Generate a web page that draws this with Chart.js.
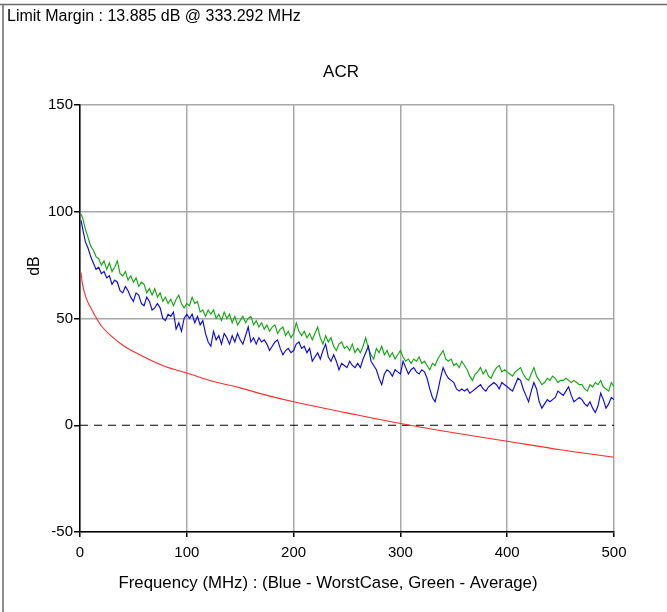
<!DOCTYPE html>
<html>
<head>
<meta charset="utf-8">
<title>ACR</title>
<script src="https://cdn.jsdelivr.net/npm/chart.js@4.4.1/dist/chart.umd.min.js"></script>
<style>
  html, body { margin: 0; padding: 0; background: #fff; }
  #wrap { position: relative; width: 667px; height: 612px; }
</style>
</head>
<body>
<div id="wrap"><canvas id="acrChart" width="667" height="612"></canvas></div>
<script>
  "use strict";

  /* ---------------------------------------------------------------
   * Data
   * --------------------------------------------------------------- */
  const LIMIT_TEXT = "Limit Margin : 13.885 dB @ 333.292 MHz";
  const TITLE = "ACR";
  const X_TITLE = "Frequency (MHz) : (Blue - WorstCase, Green - Average)";
  const Y_TITLE = "dB";

  const freqs = [1, 2.5, 5, 7.5, 10, 12.5, 15, 17.5, 20, 22.5, 25, 27.5, 30, 32.5, 35, 37.5, 40, 42.5, 45, 47.5, 50,
    52.5, 55, 57.5, 60, 62.5, 65, 67.5, 70, 72.5, 75, 77.5, 80, 82.5, 85, 87.5, 90, 92.5, 95, 97.5, 100,
    102.5, 105, 107.5, 110, 112.5, 115, 117.5, 120, 122.5, 125, 127.5, 130, 132.5, 135, 137.5, 140, 142.5, 145, 147.5, 150,
    152.5, 155, 157.5, 160, 162.5, 165, 167.5, 170, 172.5, 175, 177.5, 180, 182.5, 185, 187.5, 190, 192.5, 195, 197.5, 200,
    202.5, 205, 207.5, 210, 212.5, 215, 217.5, 220, 222.5, 225, 227.5, 230, 232.5, 235, 237.5, 240, 242.5, 245, 247.5, 250,
    252.5, 255, 257.5, 260, 262.5, 265, 267.5, 270, 272.5, 275, 277.5, 280, 282.5, 285, 287.5, 290, 292.5, 295, 297.5, 300,
    302.5, 305, 307.5, 310, 312.5, 315, 317.5, 320, 322.5, 325, 327.5, 330, 332.5, 335, 337.5, 340, 342.5, 345, 347.5, 350,
    352.5, 355, 357.5, 360, 362.5, 365, 367.5, 370, 372.5, 375, 377.5, 380, 382.5, 385, 387.5, 390, 392.5, 395, 397.5, 400,
    402.5, 405, 407.5, 410, 412.5, 415, 417.5, 420, 422.5, 425, 427.5, 430, 432.5, 435, 437.5, 440, 442.5, 445, 447.5, 450,
    452.5, 455, 457.5, 460, 462.5, 465, 467.5, 470, 472.5, 475, 477.5, 480, 482.5, 485, 487.5, 490, 492.5, 495, 497.5, 500];

  // Green - Average
  const average = [99, 97, 92, 88, 84, 82, 79, 78, 75, 77, 73, 76, 72, 74, 77, 71, 70, 72, 68, 70, 67,
    69, 65, 67, 66, 62, 64, 61, 64, 60, 62, 58, 60, 57, 59, 56, 59, 61, 57, 55, 57,
    56, 60, 57, 58, 53, 54, 51, 54, 52, 54, 50, 52, 49, 53, 50, 52, 48, 51, 47, 49,
    51, 48, 50, 51, 47, 49, 46, 48, 45, 47, 44, 46, 47, 43, 45, 46, 42, 44, 41, 43,
    48, 44, 42, 44, 41, 43, 40, 43, 46, 41, 38, 42, 39, 41, 37, 35, 38, 39, 36, 37,
    35, 38, 34, 36, 34, 37, 41, 36, 33, 31, 36, 34, 37, 33, 35, 32, 34, 31, 33, 35,
    32, 30, 31, 29, 31, 30, 32, 29, 30, 28, 26, 29, 28, 31, 33, 35, 31, 30, 31, 28,
    29, 27, 30, 28, 26, 23, 21, 24, 25, 27, 24, 26, 23, 22, 25, 27, 28, 25, 26, 25,
    24, 23, 25, 26, 27, 24, 22, 21, 24, 27, 23, 21, 19, 20, 22, 21, 23, 22, 20, 21,
    21, 22, 21, 20, 21, 20, 19, 19, 17, 16, 19, 18, 20, 19, 21, 18, 17, 16, 20, 18];

  // Blue - WorstCase
  const worstCase = [96, 92, 86, 83, 79, 76, 73, 74, 71, 72, 69, 70, 66, 68, 67, 63, 62, 65, 63, 60, 58,
    62, 61, 57, 56, 60, 58, 54, 55, 57, 55, 50, 49, 52, 51, 53, 45, 48, 44, 50, 52,
    50, 52, 48, 51, 47, 49, 43, 39, 37, 44, 40, 42, 38, 43, 41, 38, 42, 39, 43, 40,
    38, 42, 46, 39, 41, 38, 41, 39, 40, 38, 35, 37, 39, 40, 36, 33, 35, 36, 34, 35,
    38, 39, 36, 37, 34, 36, 30, 32, 34, 31, 35, 38, 32, 30, 33, 30, 26, 29, 28, 27,
    30, 28, 27, 29, 27, 31, 34, 37, 30, 28, 26, 22, 19, 24, 26, 25, 23, 26, 25, 24,
    30, 27, 24, 26, 27, 25, 24, 26, 25, 22, 17, 13, 11, 16, 22, 27, 24, 22, 21, 20,
    17, 16, 17, 16, 17, 15, 16, 17, 18, 19, 17, 16, 18, 19, 20, 19, 17, 20, 19, 18,
    17, 16, 19, 22, 21, 17, 14, 11, 16, 20, 17, 11, 8, 10, 12, 11, 12, 13, 16, 15,
    14, 16, 18, 14, 11, 12, 13, 12, 10, 9, 11, 8, 6, 9, 15, 12, 8, 10, 13, 12];

  // Red - limit line
  const limitFreqs = [1, 2, 4, 7, 10, 15, 20, 30, 40, 50, 60, 80, 100, 125, 150, 175, 200, 250, 300, 350, 400, 450, 500];
  const limitValues = [71.5, 67, 62.5, 58, 55, 50.5, 46.5, 41.5, 37.5, 34.5, 32, 27.5, 24.5, 20.5, 17.5, 14, 11, 5.8, 0.8, -3.5, -7.5, -11.5, -15];

  // Dashed zero reference
  const zeroFreqs = [0, 500];
  const zeroValues = [0, 0];

  const yTicks = { min: -50, max: 150, step: 50 };
  const xTicks = { min: 0, max: 500, step: 100 };

  const FONT = "Arial, 'Liberation Sans', sans-serif";
  const toPoints = (xs, ys) => xs.map((x, i) => ({ x: x, y: ys[i] }));

  /* ---------------------------------------------------------------
   * Captions + frame (drawn on the canvas)
   * --------------------------------------------------------------- */
  const captionPlugin = {
    id: "captions",
    beforeDraw(chart) {
      const ctx = chart.ctx;
      ctx.save();
      ctx.strokeStyle = "#6a6a6a";
      ctx.lineWidth = 1.5;
      ctx.beginPath();
      ctx.moveTo(0, 4.5);
      ctx.lineTo(chart.width, 4.5);
      ctx.moveTo(3, 4.5);
      ctx.lineTo(3, chart.height);
      ctx.stroke();
      ctx.restore();
    },
    afterDraw(chart) {
      const ctx = chart.ctx;
      ctx.save();
      ctx.fillStyle = "#000";
      ctx.textBaseline = "middle";

      ctx.font = "16px " + FONT;
      ctx.textAlign = "left";
      ctx.fillText(LIMIT_TEXT, 7, 17);

      ctx.font = "17px " + FONT;
      ctx.textAlign = "center";
      ctx.fillText(TITLE, 341, 72);

      ctx.font = "16.8px " + FONT;
      ctx.fillText(X_TITLE, 328, 583);

      ctx.font = "16px " + FONT;
      ctx.translate(35, 266);
      ctx.rotate(-Math.PI / 2);
      ctx.fillText(Y_TITLE, 0, 0);
      ctx.restore();
    }
  };

  /* ---------------------------------------------------------------
   * Chart
   * --------------------------------------------------------------- */
  function renderChart() {
    const ctx = document.getElementById("acrChart");

    new Chart(ctx, {
      type: "line",
      data: {
        datasets: [
          {
            label: "Limit",
            data: toPoints(limitFreqs, limitValues),
            borderColor: "#ff2a2a",
            borderWidth: 1.1,
            pointRadius: 0,
            cubicInterpolationMode: "monotone"
          },
          {
            label: "Zero",
            data: toPoints(zeroFreqs, zeroValues),
            borderColor: "#000",
            borderWidth: 1.2,
            borderDash: [8, 6],
            pointRadius: 0
          },
          {
            label: "WorstCase",
            data: toPoints(freqs, worstCase),
            borderColor: "#0a0ae8",
            borderWidth: 1.15,
            pointRadius: 0,
            tension: 0
          },
          {
            label: "Average",
            data: toPoints(freqs, average),
            borderColor: "#12a812",
            borderWidth: 1.15,
            pointRadius: 0,
            tension: 0
          }
        ]
      },
      options: {
        responsive: false,
        animation: false,
        layout: { padding: { left: 8, right: 53, top: 105, bottom: 0 } },
        plugins: {
          legend: { display: false },
          tooltip: { enabled: false }
        },
        scales: {
          x: {
            type: "linear",
            min: xTicks.min,
            max: xTicks.max,
            afterFit: (s) => { s.height = 80; },
            border: { display: true, color: "#000", width: 1.5 },
            grid: {
              color: "#a8a8a8",
              lineWidth: 1.5,
              tickColor: "#000",
              tickLength: 5
            },
            ticks: {
              stepSize: xTicks.step,
              color: "#000",
              padding: 7,
              maxRotation: 0,
              font: { family: FONT, size: 15 }
            }
          },
          y: {
            min: yTicks.min,
            max: yTicks.max,
            afterFit: (s) => { s.width = 72; },
            border: { display: true, color: "#000", width: 1.5 },
            grid: {
              color: (c) => (c.tick && c.tick.value === 0 ? "rgba(0,0,0,0)" : "#a8a8a8"),
              lineWidth: 1.5,
              tickColor: "#000",
              tickLength: 6
            },
            ticks: {
              stepSize: yTicks.step,
              color: "#000",
              padding: 1,
              font: { family: FONT, size: 15 }
            }
          }
        }
      },
      plugins: [captionPlugin]
    });
  }

  document.addEventListener("DOMContentLoaded", renderChart);
</script>
</body>
</html>
